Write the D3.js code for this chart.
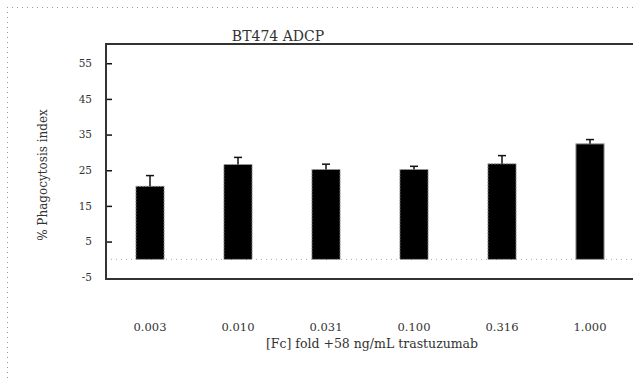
<!DOCTYPE html>
<html>
<head>
<meta charset="utf-8">
<script src="https://cdn.jsdelivr.net/npm/d3@7"></script>
<style>
  html, body { margin: 0; padding: 0; background: #fff; }
  svg { display: block; }
  text { font-family: "DejaVu Serif", "Liberation Serif", serif; fill: #333; }
</style>
</head>
<body>
<svg id="chart" width="633" height="379"></svg>
<script>
// Concentrations tested (categories along the x axis)
const categories = ["0.003", "0.010", "0.031", "0.100", "0.316", "1.000"];
// Mean phagocytosis per concentration and its error
const means = [20.5, 26.6, 25.2, 25.2, 26.8, 32.4];
const errors = [3.0, 2.0, 1.5, 0.9, 2.3, 1.2];
// Y axis tick values
const yTicks = [-5, 5, 15, 25, 35, 45, 55];

const svg = d3.select("#chart");
const W = 633, H = 379;
const plotLeft = 106, plotTop = 44, plotBottom = 279;

// Outer dotted frame (top and left edges)
svg.append("line").attr("x1", 7).attr("x2", W).attr("y1", 7.5).attr("y2", 7.5)
  .attr("stroke", "#999").attr("stroke-dasharray", "1,4");
svg.append("line").attr("x1", 7.5).attr("x2", 7.5).attr("y1", 7).attr("y2", H)
  .attr("stroke", "#999").attr("stroke-dasharray", "1,4");

const x = d3.scaleBand().domain(categories).range([plotLeft, 634]).paddingInner(0.68).paddingOuter(0.34);
const y = d3.scaleLinear().domain([-5.5, 60.4]).range([plotBottom, plotTop]);

// Zero reference line
svg.append("line").attr("x1", plotLeft).attr("x2", W).attr("y1", y(0)).attr("y2", y(0))
  .attr("stroke", "#aaa").attr("stroke-dasharray", "1,4");

// Bars
svg.append("g").selectAll("rect").data(means).join("rect")
  .attr("x", (d, i) => x(categories[i]))
  .attr("width", x.bandwidth())
  .attr("y", d => y(d))
  .attr("height", d => y(0) - y(d))
  .attr("fill", "#000")
  .attr("stroke", "#999")
  .attr("stroke-width", 1)
  .attr("stroke-dasharray", (d, i) => i < 5 ? "2,1" : null);

// Error bars (upper whisker with cap)
const eb = svg.append("g").attr("stroke", "#111").attr("stroke-width", 1.5);
means.forEach((m, i) => {
  const cx = x(categories[i]) + x.bandwidth() / 2;
  eb.append("line").attr("x1", cx).attr("x2", cx).attr("y1", y(m)).attr("y2", y(m + errors[i]));
  eb.append("line").attr("x1", cx - 4).attr("x2", cx + 4).attr("y1", y(m + errors[i])).attr("y2", y(m + errors[i]));
});

// Left axis with inward ticks
const yAxis = d3.axisRight(y).tickValues(yTicks).tickSize(6).tickFormat("");
const ga = svg.append("g").attr("transform", `translate(${plotLeft},0)`).call(yAxis);
ga.select(".domain").remove();
ga.selectAll(".tick line").attr("stroke", "#111").attr("stroke-width", 1.5);
ga.selectAll(".tick").filter(d => d === -5).remove();

// Y tick labels
svg.append("g").selectAll("text").data(yTicks).join("text")
  .attr("x", 92).attr("y", d => y(d)).attr("dy", "0.35em")
  .attr("text-anchor", "end").attr("font-size", 10.5)
  .text(d => d);

// Plot frame: left, top and bottom edges
svg.append("path")
  .attr("d", `M${W},${plotTop}H${plotLeft}V${plotBottom}H${W}`)
  .attr("fill", "none").attr("stroke", "#333").attr("stroke-width", 2);

// X tick labels
svg.append("g").selectAll("text").data(categories).join("text")
  .attr("x", d => x(d) + x.bandwidth() / 2).attr("y", 331)
  .attr("text-anchor", "middle").attr("font-size", 11.5)
  .text(d => d);

// Axis titles
svg.append("text").attr("x", 372).attr("y", 348).attr("text-anchor", "middle")
  .attr("font-size", 12.5).text("[Fc] fold +58 ng/mL trastuzumab");
svg.append("text").attr("transform", "translate(47,175) rotate(-90)")
  .attr("text-anchor", "middle").attr("font-size", 12).text("% Phagocytosis index");

// Chart title
svg.append("text").attr("x", 278).attr("y", 41).attr("text-anchor", "middle")
  .attr("font-size", 14).text("BT474 ADCP");
</script>
</body>
</html>
